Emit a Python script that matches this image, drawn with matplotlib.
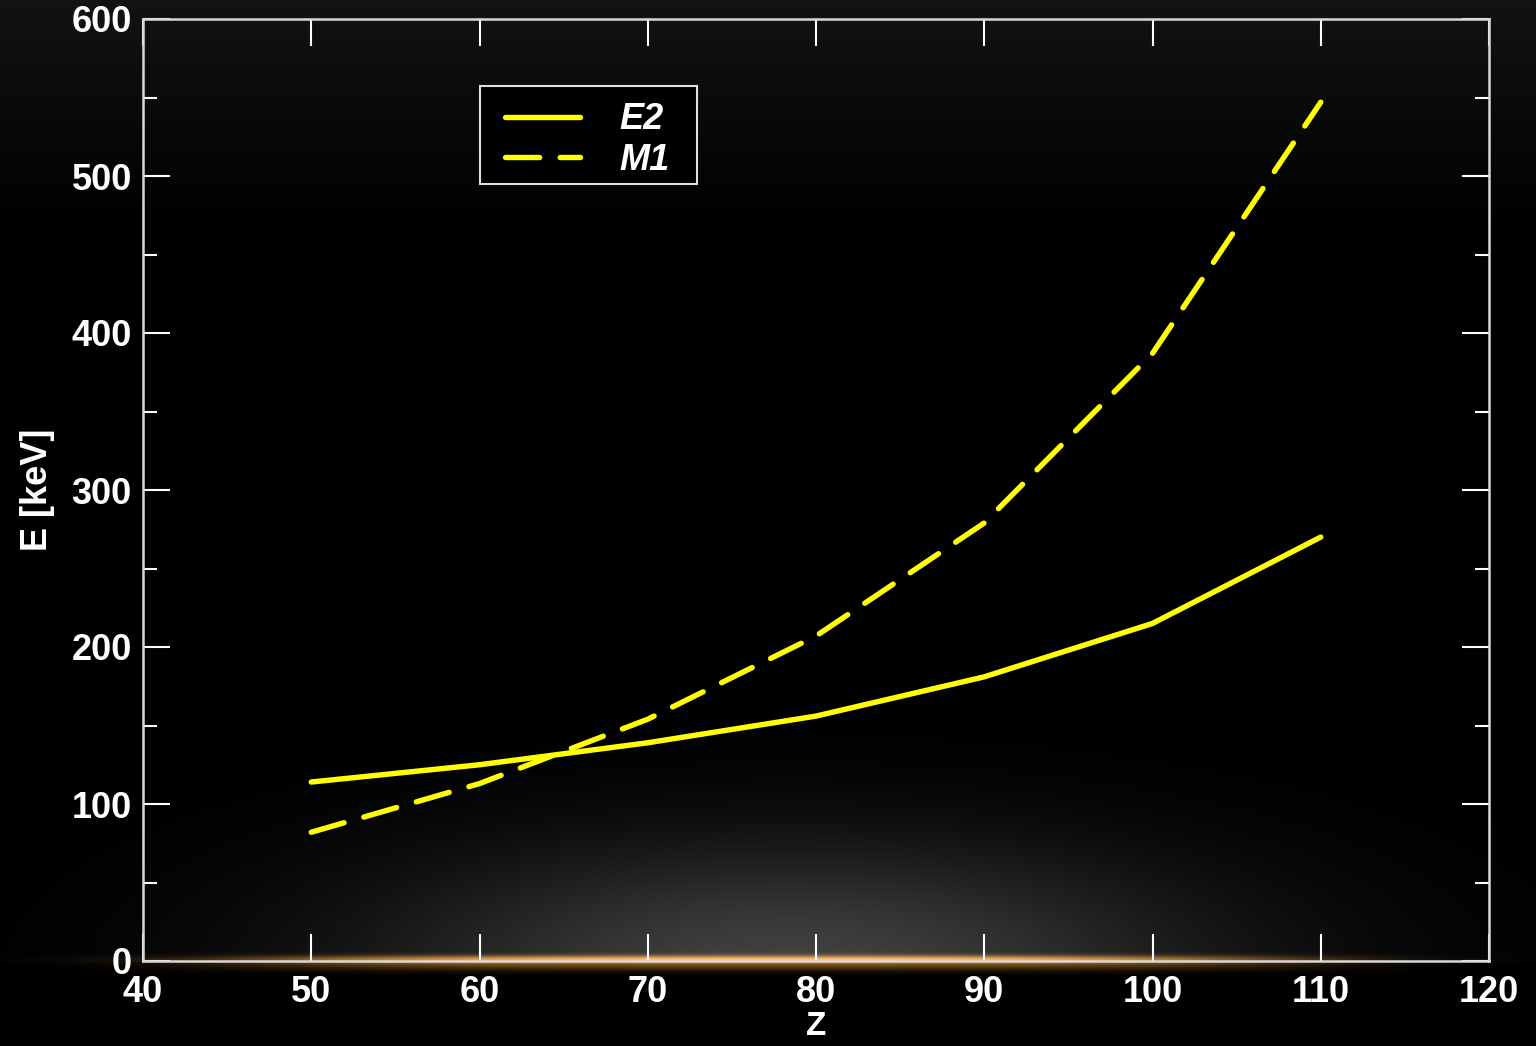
import numpy as np
import matplotlib
matplotlib.use("Agg")
import matplotlib.pyplot as plt
from matplotlib.ticker import MultipleLocator
from matplotlib.patches import Rectangle

# Transition energies versus proton number
z_values = [50, 60, 70, 80, 90, 100, 110]
e2_energy = [114, 125, 139, 156, 181, 215, 270]
m1_energy = [82, 113, 154, 207, 279, 387, 547]

x_ticks = [40, 50, 60, 70, 80, 90, 100, 110, 120]
y_ticks = [0, 100, 200, 300, 400, 500, 600]

W, H, DPI = 1536, 1046, 100
fig = plt.figure(figsize=(W / DPI, H / DPI), dpi=DPI, facecolor="black")

ax_left, ax_right = 143 / W, 1489 / W
ax_bottom, ax_top = (H - 961) / H, (H - 19) / H

# Backdrop: dark vertical fade at the top, grey haze and an amber glow along the baseline
yy, xx = np.mgrid[0:H, 0:W].astype(float)
img = np.zeros((H, W, 3))
top_fade = np.clip(1 - yy / 230.0, 0, 1) * 0.075
img += top_fade[..., None]
base_y = 961.0
haze = 0.25 * np.exp(-((xx - 790) / 420.0) ** 2 - ((yy - base_y) / 120.0) ** 2)
haze[yy > base_y] = 0
img += haze[..., None]
glow_x = np.exp(-((xx - 760) / 520.0) ** 4)
glow_up = np.exp(-((yy - (base_y - 2)) / 4.0) ** 2) * glow_x
glow_dn = np.exp(-((yy - (base_y + 3)) / 6.0) ** 2) * glow_x * 0.4
amber = np.array([0.95, 0.62, 0.2])
img += (glow_up * 0.65 + glow_dn)[..., None] * amber
img = np.clip(img, 0, 1)

bg = fig.add_axes([0, 0, 1, 1], zorder=-10)
bg.imshow(img, aspect="auto", interpolation="bilinear")
bg.axis("off")

ax = fig.add_axes([ax_left, ax_bottom, ax_right - ax_left, ax_top - ax_bottom])
ax.set_facecolor("none")

ax.plot(z_values, e2_energy, color="#ffff00", lw=3.9, solid_capstyle="round",
        label="E2")
ax.plot(z_values, m1_energy, color="#ffff00", lw=3.9, dashes=(6.3, 3.8),
        dash_capstyle="round", label="M1")

ax.set_xlim(40, 120)
ax.set_ylim(0, 600)
ax.set_xticks(x_ticks)
ax.set_yticks(y_ticks)
ax.yaxis.set_minor_locator(MultipleLocator(50))

tick_font = dict(family="Liberation Sans", weight="bold", size=26)
ax.set_xticklabels([str(v) for v in x_ticks], **tick_font, color="white")
ax.set_yticklabels([str(v) for v in y_ticks], **tick_font, color="white")

ax.tick_params(which="both", direction="in", top=True, right=True,
               color="white", width=1.5)
ax.tick_params(which="major", length=19.5)
ax.tick_params(which="minor", length=10)
ax.tick_params(axis="x", which="major", pad=10)
ax.tick_params(axis="y", which="major", pad=8)
for sp in ax.spines.values():
    sp.set_color("#d8d8d8")
    sp.set_linewidth(1.8)

ax.set_xlabel("Z", family="Liberation Sans", weight="bold", size=24,
              color="white", labelpad=0.5)
ax.set_ylabel("E [keV]", family="Liberation Sans", weight="bold", size=26,
              color="white", labelpad=12)

# Legend box drawn separately so its size can be set freely
ax.add_patch(Rectangle((0.2504, 0.8248), 0.1612, 0.1041, transform=ax.transAxes,
                       facecolor="black", edgecolor="#e0e0e0", linewidth=1.5,
                       zorder=4))
leg = ax.legend(loc="upper left", bbox_to_anchor=(0.2689, 0.9117),
                prop=dict(family="Liberation Sans", weight="bold",
                          style="italic", size=26),
                frameon=False, handlelength=2.08, handletextpad=1.1,
                labelspacing=0.15, borderpad=0, borderaxespad=0)
leg.set_zorder(5)
for t in leg.get_texts():
    t.set_color("white")

fig.savefig("out.png", dpi=DPI, facecolor="black")
